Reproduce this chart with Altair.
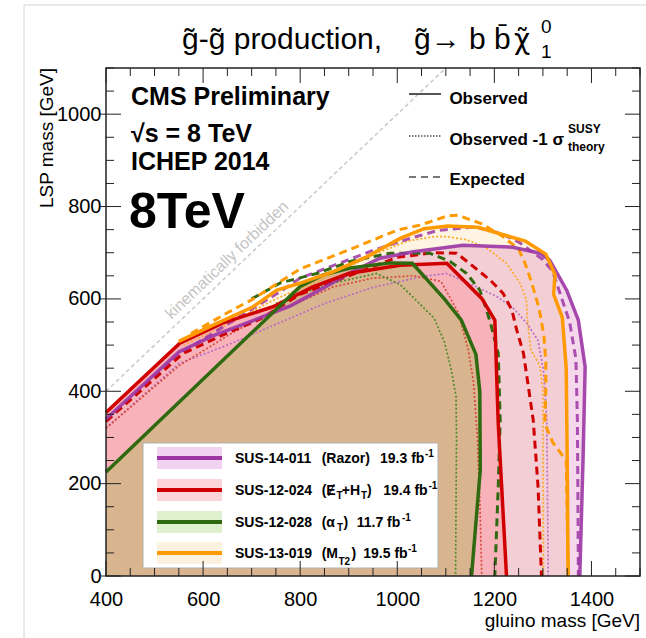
import altair as alt
import pandas as pd

# ---------------- data ----------------
# SUS-14-011 Razor (purple)
raz_obs_x = [400, 550, 620, 700, 780, 850, 900, 964, 1033, 1135, 1238, 1294, 1314, 1349, 1373, 1387, 1383, 1376]
raz_obs_y = [340, 485, 520, 552, 585, 625, 655, 688, 702, 716, 712, 699, 684, 619, 554, 453, 266, 0]
raz_exp_x = [400, 550, 650, 750, 800, 868, 950, 1026, 1083, 1160, 1215, 1250, 1299, 1320, 1334, 1355, 1368, 1371, 1372, 1373]
raz_exp_y = [335, 480, 545, 610, 645, 672, 705, 731, 748, 756, 741, 723, 686, 660, 616, 550, 470, 338, 190, 0]
raz_m1s_x = [400, 550, 650, 750, 850, 950, 1050, 1102, 1170, 1205, 1239, 1267, 1290, 1301, 1308, 1311]
raz_m1s_y = [320, 460, 500, 545, 590, 625, 648, 655, 623, 605, 580, 547, 510, 446, 338, 0]

# SUS-12-024 MET+HT (red)
ht_obs_x = [400, 552, 641, 744, 826, 900, 1005, 1102, 1174, 1201, 1208, 1225]
ht_obs_y = [354, 504, 548, 583, 626, 655, 673, 677, 601, 554, 330, 0]
ht_exp_x = [400, 559, 649, 717, 800, 900, 1000, 1074, 1122, 1157, 1191, 1218, 1236, 1246, 1260, 1280, 1290, 1297]
ht_exp_y = [335, 482, 526, 556, 610, 650, 690, 700, 699, 670, 641, 612, 576, 533, 482, 338, 193, 0]
ht_m1s_x = [400, 550, 650, 717, 800, 868, 950, 1034, 1090, 1125, 1146, 1157, 1165, 1170, 1174]
ht_m1s_y = [320, 455, 520, 560, 594, 626, 645, 650, 638, 572, 491, 420, 300, 165, 0]

# SUS-12-028 alphaT (green)
at_obs_x = [400, 800, 847, 903, 985, 1031, 1097, 1132, 1162, 1170, 1171, 1153]
at_obs_y = [225, 627, 652, 667, 678, 677, 600, 554, 480, 400, 230, 0]
at_exp_x = [700, 760, 834, 903, 985, 1067, 1109, 1143, 1170, 1184, 1194, 1208, 1212, 1208, 1201]
at_exp_y = [600, 635, 655, 681, 699, 699, 681, 655, 619, 576, 540, 482, 338, 193, 0]
at_m1s_x = [750, 850, 957, 1006, 1034, 1076, 1097, 1111, 1121, 1122, 1120]
at_m1s_y = [590, 630, 655, 631, 602, 558, 507, 448, 389, 300, 0]

# SUS-13-019 MT2 (orange)
mt2_obs_x = [550, 614, 703, 752, 800, 868, 937, 1006, 1055, 1104, 1166, 1215, 1264, 1306, 1325, 1322, 1340, 1348, 1350, 1352]
mt2_obs_y = [508, 540, 583, 619, 634, 659, 691, 731, 752, 758, 755, 740, 725, 697, 652, 610, 560, 450, 260, 0]
mt2_exp_x = [575, 650, 700, 800, 900, 1000, 1048, 1104, 1125, 1173, 1215, 1250, 1264, 1278, 1292, 1302, 1306, 1306, 1304, 1320, 1348, 1352]
mt2_exp_y = [525, 570, 598, 665, 706, 749, 760, 780, 781, 763, 737, 708, 675, 631, 580, 521, 463, 404, 330, 290, 250, 0]
mt2_m1s_x = [560, 650, 750, 850, 950, 1020, 1075, 1102, 1143, 1184, 1225, 1253, 1266, 1268, 1275, 1294, 1300, 1301]
mt2_m1s_y = [500, 545, 600, 645, 695, 725, 735, 735, 728, 710, 677, 634, 598, 555, 490, 455, 400, 0]

# kinematic limit line
kin_x = [400, 1100]
kin_y = [400, 1100]

# axis ticks / labels
x_labels = [400, 600, 800, 1000, 1200, 1400]
y_labels = [0, 200, 400, 600, 800, 1000]
x_minor = [v for v in range(400, 1501, 50) if v not in x_labels]
y_minor = [v for v in range(0, 1101, 50) if v not in y_labels]

legend_names = ["SUS-14-011", "SUS-12-024", "SUS-12-028", "SUS-13-019"]

# ---------------- layout ----------------
W, H = 534, 508
OX, OY = 106, 68
FONT = "Liberation Sans"
xs = alt.Scale(domain=[400, 1500], nice=False, zero=False)
ys = alt.Scale(domain=[0, 1100], nice=False, zero=False)
AXX = alt.Axis(values=x_labels, title=None, tickSize=0, domain=False, grid=False,
               labelFontSize=20, labelFont=FONT, labelColor="black",
               labelPadding=13, labelFlush=False, format="d")
AXY = alt.Axis(values=y_labels, title=None, tickSize=0, domain=False, grid=False,
               labelFontSize=20, labelFont=FONT, labelColor="black",
               labelPadding=5, format="d")
one = pd.DataFrame({"z": [0]})

C_PUR, C_RED, C_GRN, C_ORG = "#9c36a5", "#d10000", "#2f6a10", "#ff9a00"


def curve_df(xv, yv):
    return pd.DataFrame({"m": list(xv), "lsp": list(yv), "i": list(range(len(xv)))})


def enc(ch):
    return ch.encode(
        x=alt.X("m:Q", scale=xs, axis=AXX),
        y=alt.Y("lsp:Q", scale=ys, axis=AXY),
        order="i:Q",
    )


def poly(xv, yv, color, opacity=1.0):
    df = curve_df(list(xv) + [400], list(yv) + [0])
    return enc(alt.Chart(df).mark_line(fill=color, fillOpacity=opacity, strokeOpacity=0, strokeWidth=0))


def curve(xv, yv, color, width, dash=None, opacity=1.0):
    kw = dict(color=color, strokeWidth=width, opacity=opacity)
    if dash:
        kw["strokeDash"] = dash
    return enc(alt.Chart(curve_df(xv, yv)).mark_line(**kw))


def txt(ax, ay, s, size, weight="normal", color="black", align="left", angle=None,
        baseline="alphabetic", font=FONT):
    kw = dict(text=s, fontSize=size, fontWeight=weight, color=color, align=align,
              baseline=baseline, font=font)
    if angle is not None:
        kw["angle"] = angle
    return alt.Chart(one).mark_text(**kw).encode(x=alt.value(ax - OX), y=alt.value(ay - OY))


def rule(ax1, ay1, ax2, ay2, color, width, dash=None):
    kw = dict(color=color, strokeWidth=width)
    if dash:
        kw["strokeDash"] = dash
    return alt.Chart(one).mark_rule(**kw).encode(
        x=alt.value(ax1 - OX), x2=alt.value(ax2 - OX), y=alt.value(ay1 - OY), y2=alt.value(ay2 - OY))


def box(ax1, ay1, ax2, ay2, fill, stroke=None, sw=0):
    kw = dict(fill=fill)
    if stroke:
        kw.update(stroke=stroke, strokeWidth=sw)
    return alt.Chart(one).mark_rect(**kw).encode(
        x=alt.value(ax1 - OX), x2=alt.value(ax2 - OX), y=alt.value(ay1 - OY), y2=alt.value(ay2 - OY))


layers = []

# kinematic line
layers.append(curve(kin_x, kin_y, "#c8c8c8", 1.5, dash=[4, 3]))

# filled exclusion regions
layers.append(poly(mt2_obs_x, mt2_obs_y, "#fdf4e3"))
layers.append(poly(raz_obs_x, raz_obs_y, "#d75aaa", 0.24))
layers.append(poly(ht_obs_x, ht_obs_y, "#f7b2ba"))
layers.append(poly(at_obs_x, at_obs_y, "#d9b58f"))

# dotted (-1 sigma theory)
layers.append(curve(raz_m1s_x, raz_m1s_y, "#bb6cc4", 1.7, dash=[2, 2]))
layers.append(curve(ht_m1s_x, ht_m1s_y, "#d84a3a", 1.7, dash=[2, 2]))
layers.append(curve(at_m1s_x, at_m1s_y, "#4f8a2a", 1.7, dash=[2, 2]))
layers.append(curve(mt2_m1s_x, mt2_m1s_y, "#ffa826", 1.7, dash=[2, 2]))
# dashed (expected)
layers.append(curve(raz_exp_x, raz_exp_y, C_PUR, 3, dash=[8, 5], opacity=0.85))
layers.append(curve(ht_exp_x, ht_exp_y, C_RED, 3, dash=[8, 5]))
layers.append(curve(at_exp_x, at_exp_y, C_GRN, 3, dash=[8, 5]))
layers.append(curve(mt2_exp_x, mt2_exp_y, C_ORG, 3, dash=[8, 5]))
# solid (observed)
layers.append(curve(raz_obs_x, raz_obs_y, C_PUR, 3.5, opacity=0.9))
layers.append(curve(ht_obs_x, ht_obs_y, C_RED, 3.5))
layers.append(curve(at_obs_x, at_obs_y, C_GRN, 3.5))
layers.append(curve(mt2_obs_x, mt2_obs_y, C_ORG, 3.5))

# kinematically forbidden label
layers.append(txt(227, 260, "kinematically forbidden", 16, color="#c4c4c4", align="center",
                  angle=316.4, baseline="middle"))

# bottom-left legend box
layers.append(box(143, 443, 438, 568, "white", "#b0b0b0", 1))
rows_y = [458, 490, 522, 553]
fills = ["#f1d3f1", "#fcd5d8", "#def0cd", "#fdf2e0"]
lcols = [C_PUR, C_RED, C_GRN, C_ORG]
for ry, fc, lc in zip(rows_y, fills, lcols):
    layers.append(box(157, ry - 11, 222, ry + 11, fc))
    layers.append(rule(157, ry, 222, ry, lc, 4))

B = "bold"
S = 14
s = 10
# row 1
r = rows_y[0] + 5
layers += [txt(235, r, legend_names[0], S, B), txt(321.7, r, "(Razor)", S, B),
           txt(380, r, "19.3 fb", S, B), txt(425, r - 6, "-1", s, B)]
# row 2
r = rows_y[1] + 5
layers += [txt(235, r, legend_names[1], S, B), txt(321.7, r, "(Ɇ", S, B),
           txt(336.5, r + 4, "T", s, B), txt(341.7, r, "+H", S, B), txt(361, r + 4, "T", s, B),
           txt(367, r, ")", S, B), txt(383.3, r, "19.4 fb", S, B), txt(428.5, r - 6, "-1", s, B)]
# row 3
r = rows_y[2] + 5
layers += [txt(235, r, legend_names[2], S, B), txt(321.7, r, "(α", S, B),
           txt(337, r + 4, "T", s, B), txt(343.5, r, ")", S, B),
           txt(356.7, r, "11.7 fb", S, B), txt(402, r - 6, "-1", s, B)]
# row 4
r = rows_y[3] + 5
layers += [txt(235, r, legend_names[3], S, B), txt(321.7, r, "(M", S, B),
           txt(338.5, r + 7, "T2", s, B), txt(351.5, r, ")", S, B),
           txt(363.3, r, "19.5 fb", S, B), txt(408, r - 6, "-1", s, B)]

# top-right legend (line styles)
layers.append(rule(409, 94, 441, 94, "#555555", 2))
layers.append(rule(409, 136, 441, 136, "#555555", 1.3, dash=[1.5, 1.5]))
layers.append(rule(409, 177, 441, 177, "#777777", 2, dash=[7, 5]))
layers.append(txt(449.4, 104, "Observed", 17, B))
layers.append(txt(449.4, 144.6, "Observed -1 σ", 17, B))
layers.append(txt(568, 133, "SUSY", 12, B))
layers.append(txt(568, 151, "theory", 12, B))
layers.append(txt(449.4, 185, "Expected", 17, B))

# top-left labels
layers.append(txt(131, 105, "CMS Preliminary", 25, B))
layers.append(txt(131, 141.7, "√s = 8 TeV", 25, B))
layers.append(txt(131, 170, "ICHEP 2014", 25, B))
layers.append(txt(129, 228.3, "8TeV", 50, B))

# title
layers.append(txt(182, 49, "g̃-g̃ production,", 30))
layers.append(txt(414, 49, "g̃→ b b̄", 30))
layers.append(txt(514, 49, "χ̃", 28, font="DejaVu Sans"))
layers.append(txt(541, 33, "0", 19))
layers.append(txt(541, 58, "1", 19))

# axis titles
layers.append(txt(53, 68, "LSP mass [GeV]", 19, align="right", angle=270))
layers.append(txt(640, 627, "gluino mass [GeV]", 19, align="right"))


# ticks (inward, on all four sides)
def xticks(vals, length):
    d = pd.DataFrame({"m": vals})
    bot = alt.Chart(d).mark_rule(color="#222", strokeWidth=1).encode(
        x=alt.X("m:Q", scale=xs, axis=AXX), y=alt.value(H), y2=alt.value(H - length))
    top = alt.Chart(d).mark_rule(color="#222", strokeWidth=1).encode(
        x=alt.X("m:Q", scale=xs, axis=AXX), y=alt.value(0), y2=alt.value(length))
    return [bot, top]


def yticks(vals, length, out=0):
    d = pd.DataFrame({"lsp": vals})
    left = alt.Chart(d).mark_rule(color="#222", strokeWidth=1).encode(
        y=alt.Y("lsp:Q", scale=ys, axis=AXY), x=alt.value(-out), x2=alt.value(length))
    right = alt.Chart(d).mark_rule(color="#222", strokeWidth=1).encode(
        y=alt.Y("lsp:Q", scale=ys, axis=AXY), x=alt.value(W), x2=alt.value(W - length))
    return [left, right]


layers += xticks(x_labels, 15) + xticks(x_minor, 8)
layers += yticks(y_labels, 15, out=6) + yticks(y_minor, 8)

# frame on top
layers.append(alt.Chart(one).mark_rect(fillOpacity=0, stroke="#222", strokeWidth=1.5).encode(
    x=alt.value(0), x2=alt.value(W), y=alt.value(0), y2=alt.value(H)))

# faint canvas border of the original figure
layers.append(rule(24, 5, 24, 638, "#d4d4d4", 1))
layers.append(rule(24, 5, 646, 5, "#d4d4d4", 1))

chart = alt.layer(*layers).properties(
    width=W, height=H,
    autosize=alt.AutoSizeParams(type="none"),
    padding={"left": OX, "top": OY, "right": 646 - OX - W, "bottom": 638 - OY - H},
    background="white",
).configure_view(strokeWidth=0)

chart.save("out.html", embed_options={"renderer": "svg", "actions": False})
